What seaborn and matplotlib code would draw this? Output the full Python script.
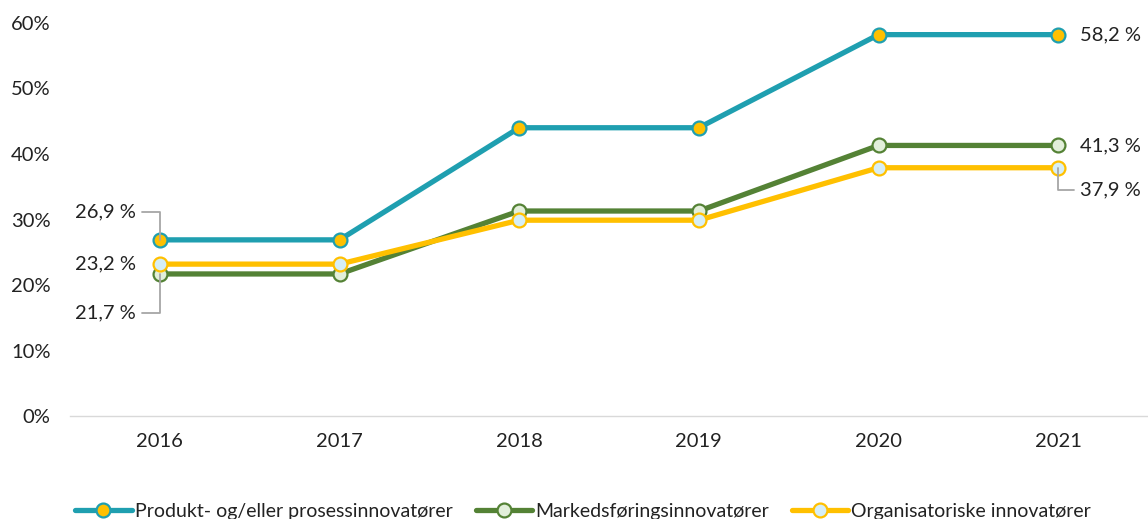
import seaborn as sns
import pandas as pd
import matplotlib.pyplot as plt
from matplotlib.ticker import FuncFormatter

years = ['2016', '2017', '2018', '2019', '2020', '2021']
produkt = [26.9, 26.9, 44.0, 44.0, 58.2, 58.2]
marked = [21.7, 21.7, 31.3, 31.3, 41.3, 41.3]
organ = [23.2, 23.2, 29.9, 29.9, 37.9, 37.9]

names = ['Produkt- og/eller prosessinnovatører',
         'Markedsføringsinnovatører',
         'Organisatoriske innovatører']
line_colors = ['#1F9FB0', '#548235', '#FFC000']
face_colors = ['#FFC000', '#E2EFDA', '#D5EEF6']

sns.set_theme(style='white')
plt.rcParams['font.family'] = ['Lato', 'DejaVu Sans']

fig = plt.figure(figsize=(11.48, 5.19), dpi=100)
ax = fig.add_axes([0.061, 0.198, 0.939, 0.758])

# draw green first, then yellow, then blue on top
order = [1, 2, 0]
series = [produkt, marked, organ]
for i in order:
    df = pd.DataFrame({'year': years, 'value': series[i]})
    sns.lineplot(data=df, x='year', y='value', ax=ax, color=line_colors[i],
                 linewidth=3.8, marker='o', markersize=10,
                 markerfacecolor=face_colors[i], markeredgecolor=line_colors[i],
                 markeredgewidth=1.6, label=names[i], legend=False)

ax.set_xlim(-0.5, 5.5)
ax.set_ylim(0, 60)
ax.set_yticks(range(0, 61, 10))
ax.yaxis.set_major_formatter(FuncFormatter(lambda v, p: f'{int(v)}%'))
ax.set_xlabel('')
ax.set_ylabel('')
ax.tick_params(axis='both', length=0, labelsize=14.5, colors='#222222')
ax.tick_params(axis='x', pad=12)
ax.tick_params(axis='y', pad=14)
for s in ['top', 'right', 'left']:
    ax.spines[s].set_visible(False)
ax.spines['bottom'].set_color('#D9D9D9')
ax.spines['bottom'].set_linewidth(1)

def fmt(v):
    return f'{v:.1f} %'.replace('.', ',')

lead = dict(arrowstyle='-', color='#A6A6A6', lw=1.3, shrinkA=2, shrinkB=0)
fs = 14.5

# left labels
ax.annotate(fmt(produkt[0]), xy=(0, produkt[0]), xytext=(-17, 20),
            textcoords='offset points', ha='right', va='center', fontsize=fs,
            color='#222222',
            arrowprops=dict(lead, connectionstyle='angle,angleA=0,angleB=90',
                            relpos=(1, 0.5)))
ax.annotate(fmt(organ[0]), xy=(0, organ[0]), xytext=(-17, 0),
            textcoords='offset points', ha='right', va='center', fontsize=fs,
            color='#222222')
ax.annotate(fmt(marked[0]), xy=(0, marked[0]), xytext=(-17, -28),
            textcoords='offset points', ha='right', va='center', fontsize=fs,
            color='#222222',
            arrowprops=dict(lead, connectionstyle='angle,angleA=0,angleB=90',
                            relpos=(1, 0.5)))

# right labels
ax.annotate(fmt(produkt[5]), xy=(5, produkt[5]), xytext=(16, 0),
            textcoords='offset points', ha='left', va='center', fontsize=fs,
            color='#222222')
ax.annotate(fmt(marked[5]), xy=(5, marked[5]), xytext=(16, 0),
            textcoords='offset points', ha='left', va='center', fontsize=fs,
            color='#222222')
ax.annotate(fmt(organ[5]), xy=(5, organ[5]), xytext=(16, -16),
            textcoords='offset points', ha='left', va='center', fontsize=fs,
            color='#222222',
            arrowprops=dict(lead, connectionstyle='angle,angleA=180,angleB=90',
                            relpos=(0, 0.5)))

handles, labels = ax.get_legend_handles_labels()
hmap = dict(zip(labels, handles))
fig.legend([hmap[n] for n in names], names, loc='lower center',
           bbox_to_anchor=(0.508, -0.035), ncol=3, frameon=False, fontsize=14,
           labelcolor='#222222',
           handlelength=2.9, handletextpad=0.15, columnspacing=1.2)

fig.savefig('out.png', dpi=100)
